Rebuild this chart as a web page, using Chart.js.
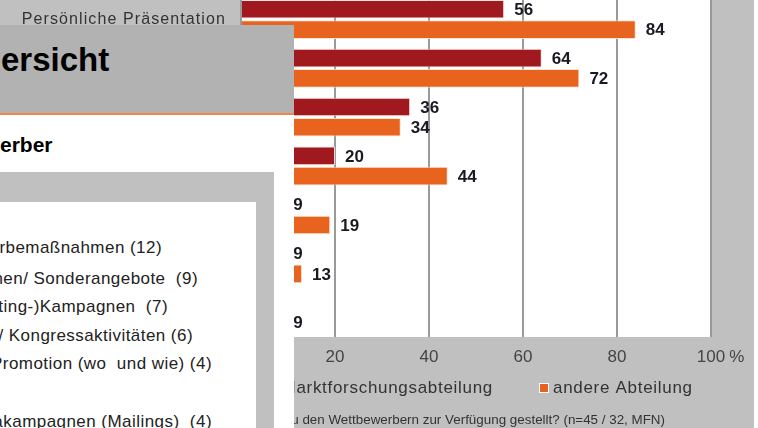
<!DOCTYPE html>
<html><head><meta charset="utf-8">
<script src="https://cdn.jsdelivr.net/npm/chart.js@4.4.1/dist/chart.umd.min.js"></script>
<style>
html,body{margin:0;padding:0;background:#fff;}
body{width:758px;height:428px;overflow:hidden;position:relative;font-family:"Liberation Sans",Arial,sans-serif;}
#wrap{position:absolute;left:0;top:-20px;width:758px;height:448px;}
.abs{position:absolute;white-space:pre;}
.li{font-size:17px;line-height:20px;color:#222;letter-spacing:0.45px;}
</style></head><body>
<div id="wrap"><canvas id="c"></canvas></div>
<div class="abs" style="left:0;top:25px;width:294px;height:403px;background:#fff;"></div>
<div class="abs" style="left:0;top:25px;width:294px;height:88px;background:#b2b2b2;"></div>
<div class="abs" style="left:0;top:113px;width:294px;height:2px;background:#ef8a45;"></div>
<div class="abs" style="left:0;top:172px;width:274px;height:256px;background:#c0c0c0;"></div>
<div class="abs" style="left:0;top:202px;width:256px;height:226px;background:#fff;"></div>
<div class="abs" style="left:-43px;top:43px;font-size:33px;line-height:33px;font-weight:bold;color:#000;">Übersicht</div>
<div class="abs" style="left:-86px;top:134px;font-size:21px;line-height:21px;font-weight:bold;color:#000;">Wettbewerber</div>
<div class="abs li" style="right:596px;top:238px;">Werbemaßnahmen (12)</div>
<div class="abs li" style="right:560px;top:269px;">Aktionen/ Sonderangebote  (9)</div>
<div class="abs li" style="right:590px;top:297px;">(Marketing-)Kampagnen  (7)</div>
<div class="abs li" style="right:565px;top:326px;">Messe-/ Kongressaktivitäten (6)</div>
<div class="abs li" style="right:546px;top:354px;">Promotion (wo  und wie) (4)</div>
<div class="abs li" style="right:546px;top:412px;">Mediakampagnen (Mailings)  (4)</div>
<script>
const categories = ["Persönliche Präsentation","Schriftlicher Bericht","E-Mail","Intranet","Datenbank","Newsletter","Sonstiges"];
const marktforschung = [56, 64, 36, 20, 9, 9, 4];
const andere = [84, 72, 34, 44, 19, 13, 9];
const seriesNames = ["Marktforschungsabteilung", "andere Abteilung"];
const xTicks = [0, 20, 40, 60, 80, 100];
const footnote = "Welche Informationen werden zu den Wettbewerbern zur Verfügung gestellt? (n=45 / 32, MFN)";

const FAM = '"Liberation Sans", Arial, sans-serif';
const RED = '#a0191f', ORANGE = '#e8641e';

const bgPlugin = {
  id: 'bg',
  beforeDraw(chart) {
    const {ctx, chartArea: ca, height} = chart;
    ctx.save();
    ctx.fillStyle = '#c0c0c0';
    ctx.fillRect(0, 0, 754, height);
    ctx.fillStyle = '#fff';
    ctx.fillRect(ca.left, 0, ca.right - ca.left, ca.bottom);
    ctx.restore();
  },
  afterLayout(chart) {
    const s = chart.scales.y;
    if (s && !s._ls) {
      const orig = s.drawLabels;
      s.drawLabels = function (a) {
        const c = this.ctx; c.save(); c.letterSpacing = '1.1px'; orig.call(this, a); c.restore();
      };
      s._ls = true;
    }
  }
};

const labelPlugin = {
  id: 'vals',
  afterDatasetsDraw(chart) {
    const ctx = chart.ctx;
    ctx.save();
    ctx.font = 'bold 17px ' + FAM;
    ctx.fillStyle = '#1a1a22';
    ctx.textBaseline = 'middle';
    ctx.textAlign = 'left';
    chart.data.datasets.forEach((ds, i) => {
      chart.getDatasetMeta(i).data.forEach((el, j) => {
        const v = ds.data[j];
        if (!v) return;
        ctx.fillText(String(v), el.x + 10, el.y + 1);
      });
    });
    ctx.restore();
  }
};

const extraPlugin = {
  id: 'extra',
  afterDraw(chart) {
    const ctx = chart.ctx;
    const xs = chart.scales.x;
    ctx.save();
    ctx.font = '17px ' + FAM;
    ctx.fillStyle = '#444';
    ctx.textBaseline = 'middle';
    const last = xTicks[xTicks.length - 1];
    const lx = xs.getPixelForValue(last) + ctx.measureText(String(last)).width / 2 + 4;
    ctx.textAlign = 'left';
    ctx.fillText('%', lx, 377);
    // legend
    ctx.font = '17px ' + FAM;
    ctx.letterSpacing = '0.7px';
    const ds = chart.data.datasets;
    const w1 = ctx.measureText(ds[0].label).width;
    const box = 8, gap = 5, itemGap = 47;
    const box2 = 540;
    const x = box2 - itemGap - w1 - gap - box;
    const ly = 408;
    ds.forEach((d, i) => {
      const bx = i === 0 ? x : box2;
      ctx.fillStyle = '#fff';
      ctx.fillRect(bx - 1, ly - 5, box + 2, box + 2);
      ctx.fillStyle = d.backgroundColor;
      ctx.fillRect(bx, ly - 4, box, box);
      ctx.fillStyle = '#333';
      ctx.fillText(d.label, bx + box + gap, ly);
    });
    // footnote
    ctx.letterSpacing = '0px';
    ctx.font = '13.4px ' + FAM;
    ctx.fillStyle = '#333';
    ctx.textAlign = 'right';
    ctx.fillText(footnote, 665, 440);
    ctx.restore();
  }
};

new Chart(document.getElementById('c'), {
  type: 'bar',
  data: {
    labels: categories,
    datasets: [
      {label: seriesNames[0], data: marktforschung, backgroundColor: RED, borderColor: 'rgba(255,225,215,0.85)', borderWidth: 1, barPercentage: 0.92, categoryPercentage: 0.83},
      {label: seriesNames[1], data: andere, backgroundColor: ORANGE, borderColor: 'rgba(255,225,205,0.85)', borderWidth: 1, barPercentage: 0.92, categoryPercentage: 0.83}
    ]
  },
  options: {
    indexAxis: 'y',
    responsive: true,
    maintainAspectRatio: false,
    animation: false,
    layout: {padding: {top: 15, right: 47, bottom: 61, left: 0}},
    scales: {
      x: {
        min: 0, max: 100,
        afterBuildTicks(s) { s.ticks = xTicks.map(v => ({value: v})); },
        ticks: {font: {size: 17, family: FAM}, color: '#444', padding: 10, maxRotation: 0, autoSkip: false},
        grid: {color: '#9a9a9a', lineWidth: 2, drawTicks: false},
        border: {display: false},
        afterFit(s) { s.height = 30; s.paddingLeft = 0; s.paddingRight = 0; }
      },
      y: {
        ticks: {font: {size: 16, family: FAM}, color: '#333', padding: 15, autoSkip: false},
        grid: {display: false, drawTicks: false},
        border: {display: false},
        afterFit(s) { s.width = 241; s.paddingTop = 0; s.paddingBottom = 0; }
      }
    },
    plugins: {legend: {display: false}, tooltip: {enabled: false}}
  },
  plugins: [bgPlugin, labelPlugin, extraPlugin]
});
</script>
</body></html>
